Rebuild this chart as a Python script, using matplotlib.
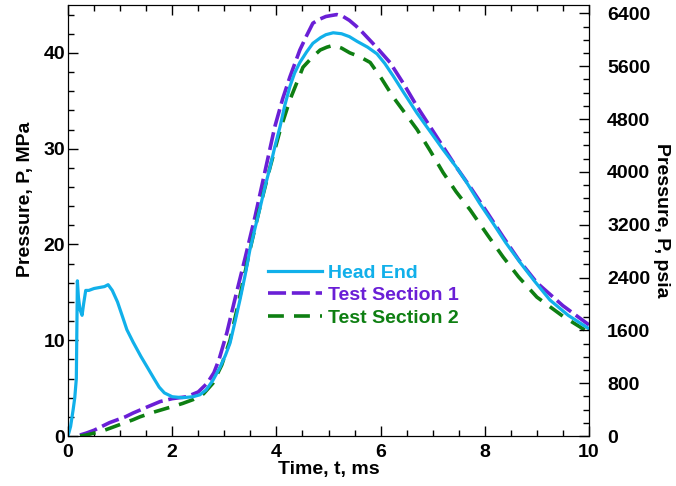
import matplotlib
matplotlib.use("Agg")
import matplotlib.pyplot as plt
from matplotlib.ticker import MultipleLocator

plt.rcParams['font.family'] = ['Liberation Sans', 'DejaVu Sans']
plt.rcParams['font.weight'] = 'bold'

# Head End
t_head = [0, 0.05, 0.10, 0.13, 0.16, 0.18, 0.20, 0.23, 0.27, 0.30, 0.34, 0.40, 0.50, 0.60, 0.70, 0.77, 0.85, 0.95, 1.05, 1.13, 1.25, 1.40, 1.52, 1.65, 1.75, 1.85, 2.0, 2.2, 2.4, 2.53, 2.65, 2.78, 2.92, 3.02, 3.11, 3.20, 3.30, 3.40, 3.49, 3.59, 3.69, 3.78, 3.88, 3.97, 4.07, 4.16, 4.26, 4.35, 4.45, 4.58, 4.70, 4.85, 4.95, 5.09, 5.25, 5.40, 5.55, 5.75, 5.93, 6.08, 6.24, 6.45, 6.70, 6.95, 7.20, 7.45, 7.66, 7.90, 8.16, 8.40, 8.68, 8.95, 9.25, 9.60, 10.0]
p_head = [0, 1.0, 2.8, 4.0, 6.0, 16.2, 14.5, 13.2, 12.6, 13.8, 15.2, 15.2, 15.4, 15.5, 15.6, 15.8, 15.2, 14.0, 12.4, 11.1, 9.8, 8.3, 7.2, 6.0, 5.1, 4.5, 4.1, 4.0, 4.1, 4.3, 4.8, 5.8, 7.2, 8.4, 9.7, 11.8, 14.2, 16.8, 19.4, 21.7, 23.9, 26.0, 28.1, 30.2, 32.3, 34.5, 36.5, 37.9, 39.0, 40.1, 41.0, 41.6, 41.9, 42.1, 42.0, 41.7, 41.2, 40.6, 39.9, 38.9, 37.6, 35.8, 33.7, 31.8, 29.9, 28.1, 26.4, 24.3, 22.2, 20.2, 18.1, 16.2, 14.2, 12.6, 11.2]

# Test Section 1
t_ts1 = [0.23, 0.35, 0.5, 0.65, 0.8, 0.95, 1.1, 1.25, 1.38, 1.55, 1.77, 2.0, 2.28, 2.5, 2.67, 2.80, 2.90, 3.05, 3.2, 3.4, 3.59, 3.78, 3.97, 4.12, 4.26, 4.45, 4.58, 4.70, 4.82, 4.95, 5.05, 5.16, 5.28, 5.40, 5.53, 5.66, 5.92, 6.18, 6.45, 6.70, 6.95, 7.20, 7.45, 7.72, 8.05, 8.35, 8.65, 9.0, 9.5, 10.0]
p_ts1 = [0.1, 0.3, 0.6, 1.0, 1.4, 1.7, 2.0, 2.4, 2.7, 3.1, 3.6, 3.9, 4.1, 4.6, 5.5, 6.6, 8.0, 10.8, 14.2, 18.6, 22.9, 27.6, 32.3, 35.2, 37.5, 40.3, 41.8, 43.1, 43.5, 43.8, 43.9, 44.0, 43.8, 43.4, 42.8, 42.1, 40.6, 39.0, 36.7, 34.4, 32.3, 30.2, 28.1, 26.0, 23.3, 20.8, 18.4, 16.0, 13.6, 11.6]

# Test Section 2
t_ts2 = [0.23, 0.35, 0.5, 0.65, 0.8, 0.95, 1.1, 1.25, 1.38, 1.65, 1.96, 2.2, 2.4, 2.6, 2.78, 2.95, 3.11, 3.30, 3.49, 3.68, 3.88, 4.07, 4.26, 4.40, 4.51, 4.68, 4.84, 4.97, 5.10, 5.25, 5.41, 5.60, 5.80, 6.02, 6.24, 6.47, 6.70, 6.95, 7.20, 7.45, 7.72, 8.05, 8.35, 8.65, 9.0, 9.5, 10.0]
p_ts2 = [0.0, 0.1, 0.3, 0.5, 0.8, 1.1, 1.4, 1.7, 2.0, 2.5, 3.0, 3.4, 3.8, 4.4, 5.5, 7.4, 10.0, 14.6, 19.4, 23.8, 28.1, 31.9, 35.1, 37.0, 38.5, 39.5, 40.3, 40.6, 40.8, 40.5, 40.0, 39.6, 39.0, 37.3, 35.4, 33.7, 32.0, 29.8, 27.5, 25.5, 23.6, 21.0, 18.7, 16.6, 14.5, 12.5, 10.8]

labels = ['Head End', 'Test Section 1', 'Test Section 2']
colors = ['#11b0ea', '#6a1fd6', '#0e7f12']

MPA_TO_PSI = 145.038
FS = 14

fig = plt.figure(figsize=(6.76, 4.86), dpi=100)
ax = fig.add_axes([68/676, 50/486, (589-68)/676, (436-5)/486])

ax.plot(t_head, p_head, color=colors[0], lw=2.3, label=labels[0], zorder=3)
ax.plot(t_ts1, p_ts1, color=colors[1], lw=2.6, dashes=(5, 1.6), label=labels[1], zorder=2)
ax.plot(t_ts2, p_ts2, color=colors[2], lw=2.6, dashes=(4.4, 2.8), label=labels[2], zorder=2)

ax.set_xlim(0, 10)
ax.set_ylim(0, 45)
ax.xaxis.set_major_locator(MultipleLocator(2))
ax.xaxis.set_minor_locator(MultipleLocator(0.5))
ax.yaxis.set_major_locator(MultipleLocator(10))
ax.yaxis.set_minor_locator(MultipleLocator(2))
ax.tick_params(which='both', direction='in', top=True, right=False, labelsize=FS, width=1)
ax.tick_params(which='major', length=7)
ax.tick_params(which='minor', length=4)
ax.tick_params(axis='x', pad=6)
ax.tick_params(axis='y', pad=2)
for lab in ax.get_xticklabels() + ax.get_yticklabels():
    lab.set_fontweight('bold')

ax.set_xlabel('Time, t, ms', fontsize=FS, fontweight='bold', labelpad=0)
ax.set_ylabel('Pressure, P, MPa', fontsize=FS, fontweight='bold')
ax.yaxis.set_label_coords(-0.065, 0.55)

ax2 = ax.twinx()
ax2.set_ylim(0, 45 * MPA_TO_PSI)
ax2.yaxis.set_major_locator(MultipleLocator(800))
ax2.yaxis.set_minor_locator(MultipleLocator(200))
ax2.tick_params(which='both', direction='in', labelsize=FS, width=1)
ax2.tick_params(which='major', length=7, pad=13)
ax2.tick_params(which='minor', length=4)
for lab in ax2.get_yticklabels():
    lab.set_fontweight('bold')
ax2.set_ylabel('Pressure, P, psia', fontsize=FS, fontweight='bold', rotation=270, labelpad=14)

leg = ax.legend(loc='upper left', bbox_to_anchor=(268/676, 1 - 264/486), bbox_transform=fig.transFigure,
                frameon=False, borderpad=0, borderaxespad=0, handlelength=2.8, handletextpad=0.3,
                labelspacing=0.26, prop={'weight': 'bold', 'size': FS}, labelcolor='linecolor')

fig.savefig('out.png', dpi=100)
